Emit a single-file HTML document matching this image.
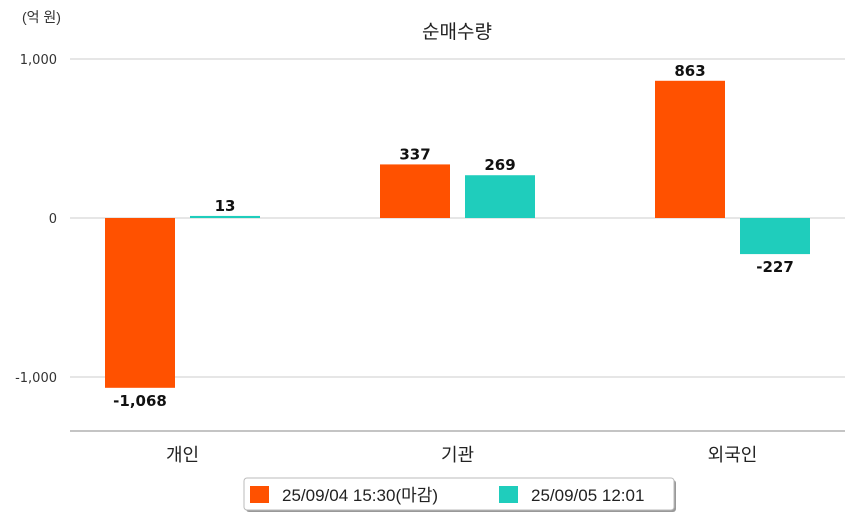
<!DOCTYPE html>
<html><head><meta charset="utf-8"><style>
body{margin:0;background:#fff;font-family:"Liberation Sans","Noto Sans CJK KR",sans-serif;}
svg text{font-family:"Liberation Sans","Noto Sans CJK KR",sans-serif;}
svg text.dv{font-family:"DejaVu Sans","Noto Sans CJK KR",sans-serif;}
</style></head><body>
<svg id="c" width="854" height="520">
<text x="22" y="22" font-size="14" fill="#333">(억 원)</text>
<text x="457" y="38" font-size="19" fill="#222" text-anchor="middle">순매수량</text>
<g id="grid"></g><g id="bars"></g>
<line x1="70" y1="431" x2="845" y2="431" stroke="#888"/>
<g>
<rect x="246" y="480" width="430" height="32" fill="#999" rx="3"/>
<rect x="244" y="478" width="430" height="32" fill="#fff" stroke="#bbb" rx="3"/>
<rect x="250" y="486" width="19" height="17" fill="#ff5100"/>
<text x="282" y="501" font-size="17" fill="#222">25/09/04 15:30(마감)</text>
<rect x="499" y="486" width="19" height="17" fill="#1fcdbc"/>
<text x="531" y="501" font-size="17" fill="#222">25/09/05 12:01</text>
</g>
</svg>
<script>
const categories=["개인","기관","외국인"];
const series1=[-1068,337,863];
const series2=[13,269,-227];
const yTicks=[1000,0,-1000];
const yTickLabels=["1,000","0","-1,000"];
const colors=["#ff5100","#1fcdbc"];
const ns="http://www.w3.org/2000/svg";
const y=v=>218-v*0.159;
const cx=i=>182.5+i*275;
const fmt=v=>v.toLocaleString("en-US");
function mk(t,a,p,txt){const e=document.createElementNS(ns,t);for(const k in a)e.setAttribute(k,a[k]);if(txt!=null)e.textContent=txt;p.appendChild(e);return e;}
const g=document.getElementById("grid"),b=document.getElementById("bars");
yTicks.forEach((t,i)=>{
 const l=mk("line",{x1:70,x2:845,y1:y(t),y2:y(t),stroke:"#ccc"},g);
 
 
 const tx=mk("text",{x:57,y:y(t)+5,"font-size":13,fill:"#333","text-anchor":"end","class":"dv"},g,yTickLabels[i]);
 
 
});
categories.forEach((c,i)=>{
 const tx=mk("text",{x:cx(i),y:461,"font-size":18,fill:"#222","text-anchor":"middle"},b,c);
 
 
 [series1,series2].forEach((s,j)=>{
  const v=s[i],x0=cx(i)+(j?7.5:-77.5);
  const top=Math.min(y(v),y(0)),h=Math.max(Math.abs(y(v)-y(0)),1);
  const r=mk("rect",{x:x0,y:top,width:70,height:h,fill:colors[j]},b);
  
  
  const ly=v>=0?y(v)-5:y(v)+18;
  const t=mk("text",{x:x0+35,y:ly,"font-size":15,"font-weight":"600",fill:"#111","text-anchor":"middle","class":"dv"},b,fmt(v));
  
  
 });
});
</script>
</body></html>
